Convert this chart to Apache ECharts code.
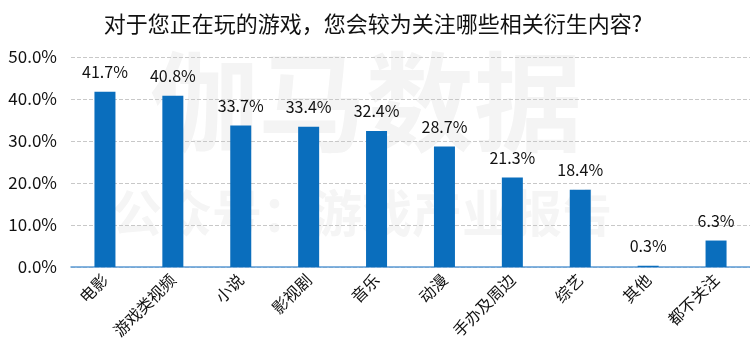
<!DOCTYPE html>
<html><head><meta charset="utf-8">
<script src="https://cdn.jsdelivr.net/npm/echarts@6/dist/echarts.min.js"></script>
<style>html,body{margin:0;padding:0;background:#fff}#c{width:750px;height:356px}</style>
</head><body><div id="c"></div>
<script>
const title = '对于您正在玩的游戏，您会较为关注哪些相关衍生内容?';
const categories = ['电影','游戏类视频','小说','影视剧','音乐','动漫','手办及周边','综艺','其他','都不关注'];
const values = [41.7,40.8,33.7,33.4,32.4,28.7,21.3,18.4,0.3,6.3];
const yTicks = [0,10,20,30,40,50];
const font = '"Microsoft YaHei","Noto Sans CJK SC",sans-serif';
const chart = echarts.init(document.getElementById('c'));
chart.setOption({
  animation:false,
  textStyle:{fontFamily:font},
  title:{text:title,left:368,textAlign:'center',top:8,textStyle:{fontSize:22,fontWeight:'normal',color:'#111',fontFamily:font}},
  graphic:[
    {type:'text',z:-10,left:150,top:48,style:{text:'伽马数据',font:'bold 108px "Noto Sans CJK SC"',fill:'#f4f4f4'}},
    {type:'text',z:-10,left:112,top:188,style:{text:'公众号：游戏产业报告',font:'bold 50px "Noto Sans CJK SC"',fill:'#f5f5f5'}}
  ],
  grid:{left:71,top:57,height:210,width:683},
  xAxis:{type:'category',data:categories,
    axisLine:{lineStyle:{color:'#5b9bd5',width:1.5}},axisTick:{show:false},
    axisLabel:{rotate:45,interval:0,fontSize:16,color:'#111',margin:10,fontFamily:font}},
  yAxis:{type:'value',min:0,max:50,interval:10,
    axisLabel:{formatter:v=>v.toFixed(1)+'%',fontSize:17,color:'#111',margin:14,fontFamily:font},
    splitLine:{lineStyle:{type:'dashed',color:'#c8c8c8'}},axisLine:{show:false},axisTick:{show:false}},
  series:[{type:'bar',data:values,barWidth:21,itemStyle:{color:'#0a6ebd'},
    label:{show:true,position:'top',distance:12,formatter:p=>p.value.toFixed(1)+'%',fontSize:16,color:'#111',fontFamily:font}}]
});
</script></body></html>
